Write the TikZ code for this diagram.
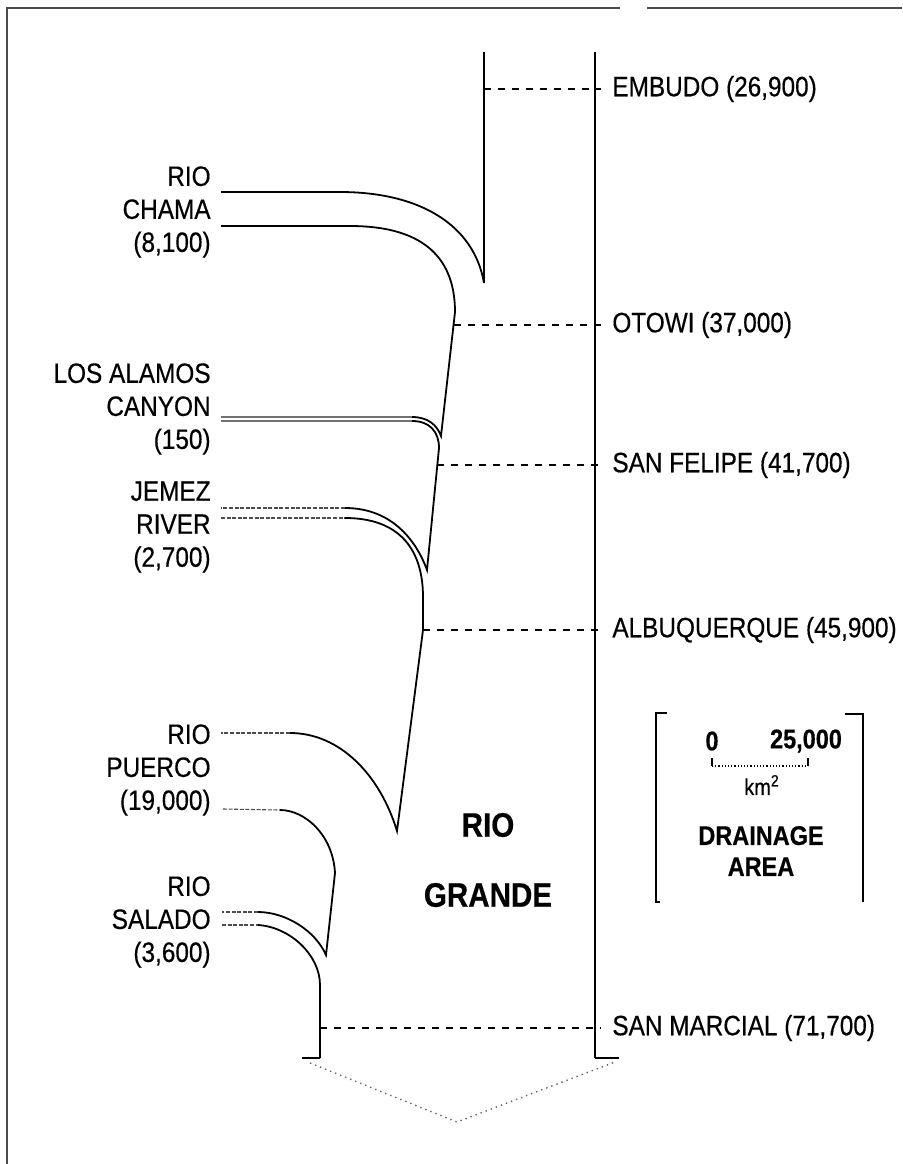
\documentclass[tikz,border=0pt]{standalone}
\usepackage{fontspec}
\setmainfont{Liberation Sans}[FakeStretch=0.87,FakeBold=0.45]
\usetikzlibrary{calc}

\begin{document}
\begin{tikzpicture}[x=0.5pt,y=-0.5pt,
    bank/.style={line width=0.9pt},
    faint/.style={line width=0.55pt,dash pattern=on 2pt off 0.8pt,black!70},
    alamos/.style={line width=0.8pt,black!55},
    gauge/.style={line width=0.8pt,dash pattern=on 3.5pt off 3.5pt},
    frame/.style={line width=0.9pt,black!70},
    station/.style={anchor=west,inner xsep=5.5pt,inner ysep=0pt,font=\fontsize{14}{16.5}\selectfont},
    tribname/.style={anchor=east,inner sep=0pt,align=right,font=\fontsize{14}{16.5}\selectfont},
    legendtxt/.style={inner sep=0pt,align=center,font=\fontsize{13.5}{15.5}\selectfont\bfseries},
]
\useasboundingbox (0,0) rectangle (902,1164);
\draw[frame] (7,1164) -- (7,8) -- (620,8);
\draw[frame] (647,8) -- (902,8);

% points on the banks
\coordinate (bankL)     at (484,52);
\coordinate (bankR)     at (595,52);
\coordinate (embL)      at (484,89);
\coordinate (chamaTip)  at (484,283);
\coordinate (otowiL)    at (454,325);
\coordinate (alamosTip) at (441,436);
\coordinate (sfL)       at (437,465);
\coordinate (jemezTip)  at (427,570);
\coordinate (albqL)     at (423,630);
\coordinate (puercoTip) at (397,831);
\coordinate (saladoTip) at (326,955);
\coordinate (smL)       at (320,1028);
\coordinate (mouthL)    at (320,1058);
\coordinate (mouthR)    at (595,1058);
\coordinate (arrowTip)  at (457,1122);

% gauging stations
\node[station] (embudo)     at (601,89)   {EMBUDO (26,900)};
\node[station] (otowi)      at (601,325)  {OTOWI (37,000)};
\node[station] (sanfelipe)  at (601,465)  {SAN FELIPE (41,700)};
\node[station] (albq)       at (601,630)  {ALBUQUERQUE (45,900)};
\node[station] (sanmarcial) at (601,1028) {SAN MARCIAL (71,700)};

% tributaries
\node[tribname] (chama)     at (211,212) {RIO\\CHAMA\\(8,100)};
\node[tribname] (losalamos) at (211,409) {LOS ALAMOS\\CANYON\\(150)};
\node[tribname] (jemez)     at (211,527) {JEMEZ\\RIVER\\(2,700)};
\node[tribname] (puerco)    at (211,770) {RIO\\PUERCO\\(19,000)};
\node[tribname] (salado)    at (211,922) {RIO\\SALADO\\(3,600)};

\node[font=\fontsize{17}{35}\selectfont\bfseries,align=center,inner sep=0pt] (riogrande) at (488,860) {RIO\\GRANDE};

% river outline
\draw[bank] (bankR) -- (mouthR);
\draw[bank] (bankL) -- (chamaTip) .. controls (474,225) and (420,192) .. (340,192) -- (221,192);
\draw[bank] (221,226) -- (350,226) .. controls (428,226) and (455,262) .. (455,312) -- (alamosTip)
    .. controls (437,425) and (428,417) .. (412,417);
\draw[alamos] (412,417) -- (221,417);
\draw[alamos] (221,421) -- (412,421);
\draw[bank] (412,421) .. controls (430,421) and (439,432) .. (439,448) -- (jemezTip)
    .. controls (418,545) and (395,508) .. (345,508);
\draw[faint] (345,508) -- (221,508);
\draw[faint] (221,518) -- (345,518);
\draw[bank] (345,518) .. controls (400,518) and (423,550) .. (423,597) -- (albqL) -- (puercoTip)
    .. controls (380,775) and (340,733) .. (290,733);
\draw[faint] (290,733) -- (221,733);
\draw[faint] (223,809) -- (280,810);
\draw[bank] (280,810) .. controls (305,810) and (333,835) .. (335,873) -- (saladoTip)
    .. controls (315,930) and (285,912) .. (258,912);
\draw[faint] (258,912) -- (222,912);
\draw[faint] (222,925) -- (258,925);
\draw[bank] (258,925) .. controls (290,927) and (320,955) .. (320,985) -- (mouthL);

% gauge lines
\draw[gauge] (embL) -- (embudo.west);
\draw[gauge] (otowiL) -- (otowi.west);
\draw[gauge] (sfL) -- (sanfelipe.west);
\draw[gauge] (albqL) -- (albq.west);
\draw[gauge] (smL) -- (sanmarcial.west);

% outflow arrow
\draw[bank] (mouthL) -- ++(-18,0);
\draw[bank] (mouthR) -- ++(24,0);
\draw[line width=0.7pt,dotted,black!60] ($(mouthL)+(-10,5)$) -- (arrowTip) -- ($(mouthR)+(20,4)$);

% legend
\draw[line width=0.6pt] (667,713) -- (656,713) -- (656,902) -- (660,902);
\draw[line width=0.6pt] (845,714) -- (863,714) -- (863,902);
\draw[line width=0.6pt] (712,758) -- (712,766);
\draw[line width=0.6pt] (808,758) -- (808,766);
\draw[line width=0.6pt,densely dotted] (712,766) -- (808,766);
\node[legendtxt] (zero)     at (712,741) {0};
\node[legendtxt] (scalemax) at (806,741) {25,000};
\node[inner sep=0pt,font=\fontsize{11.5}{13}\selectfont] (unit) at (762,785) {km\textsuperscript{2}};
\node[legendtxt] (drainage) at (761,851) {DRAINAGE\\AREA};
\end{tikzpicture}
\end{document}
